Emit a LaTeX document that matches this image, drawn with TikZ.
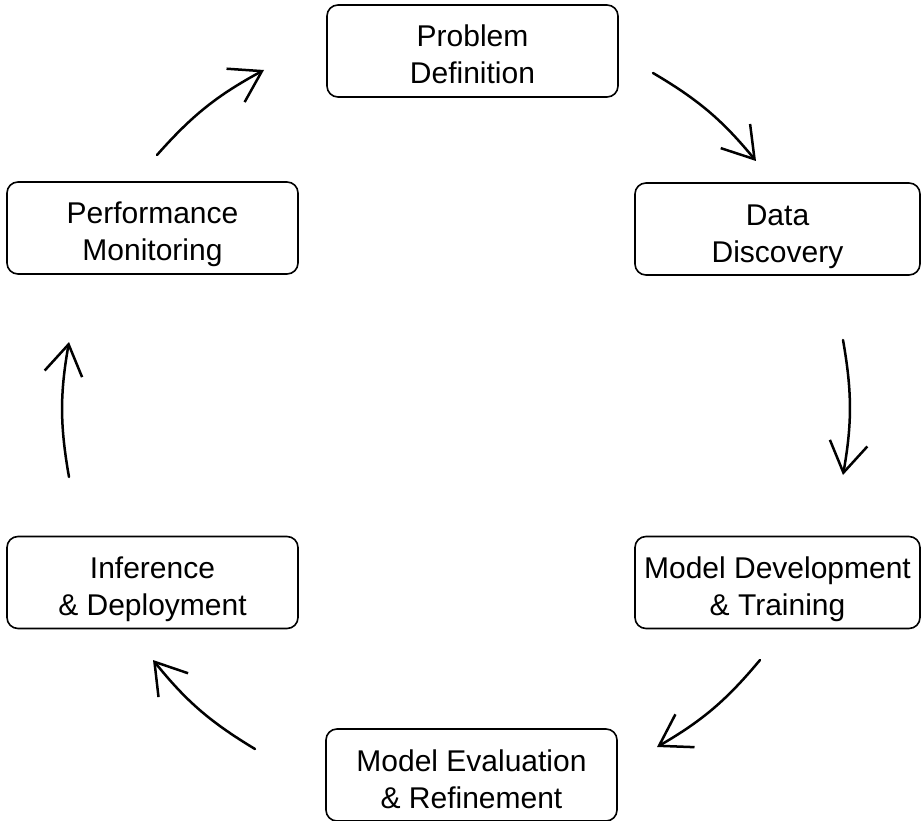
\documentclass[tikz,border=0pt]{standalone}
\usepackage{fontspec}
\setmainfont{Liberation Sans}
\usetikzlibrary{arrows.meta}

\tikzset{
  stagebox/.style={draw, line width=1.6pt, rounded corners=11pt,
    minimum width=291pt, minimum height=92pt, inner sep=0pt,
    align=center, font=\fontsize{30}{37}\selectfont,
    text height=66pt, text depth=0pt},
  edgebox/.style={stagebox, minimum width=285pt},
  cycarrow/.style={line width=2.5pt, line cap=round, line join=round,
    -{Straight Barb[length=30pt, width=38pt, line width=2.5pt]}}
}

\begin{document}
\begin{tikzpicture}[x=1pt, y=1pt]
  \useasboundingbox (0,0) rectangle (921,-821);

  % stages of the cycle
  \node[stagebox] (problem)  at (472.5,-51)   {Problem\\Definition};
  \node[edgebox]  (data)     at (777.5,-229)  {Data\\Discovery};
  \node[edgebox]  (develop)  at (777.5,-582.5) {Model Development\\\& Training};
  \node[stagebox] (evaluate) at (471.5,-775)  {Model Evaluation\\\& Refinement};
  \node[stagebox] (deploy)   at (152.5,-582.5) {Inference\\\& Deployment};
  \node[stagebox] (monitor)  at (152.5,-228)  {Performance\\Monitoring};

  % free ends of the arcs between stages
  \coordinate (a1s) at (653,-73);  \coordinate (a1e) at (756,-161);
  \coordinate (a2s) at (843,-340); \coordinate (a2e) at (843,-475);
  \coordinate (a3s) at (760,-660); \coordinate (a3e) at (657,-747);
  \coordinate (a4s) at (255,-749); \coordinate (a4e) at (153,-660);
  \coordinate (a5s) at (69,-477);  \coordinate (a5e) at (69,-342);
  \coordinate (a6s) at (157,-155); \coordinate (a6e) at (264,-70);

  % clockwise arrows
  \draw[cycarrow] (a1s) to[bend left=10] (a1e);
  \draw[cycarrow] (a2s) to[bend left=10] (a2e);
  \draw[cycarrow] (a3s) to[bend left=10] (a3e);
  \draw[cycarrow] (a4s) to[bend left=10] (a4e);
  \draw[cycarrow] (a5s) to[bend left=10] (a5e);
  \draw[cycarrow] (a6s) to[bend left=10] (a6e);
\end{tikzpicture}
\end{document}
